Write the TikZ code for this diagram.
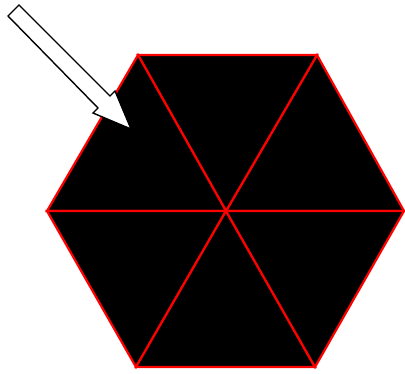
\documentclass[tikz,border=0pt]{standalone}
\begin{document}
\begin{tikzpicture}[x=1pt,y=-1pt,
  tri/.style={fill=black,draw=red,line width=2.2pt,line join=miter},
  blockarrow/.style={fill=white,draw=black,line width=1.4pt,line join=miter}]
\useasboundingbox (0,0) rectangle (405,373);
\coordinate (C) at (226,211);
\coordinate (V1) at (404,211);
\coordinate (V2) at (317,55);
\coordinate (V3) at (138,55);
\coordinate (V4) at (47,211);
\coordinate (V5) at (136,367);
\coordinate (V6) at (315,367);
\foreach \a/\b in {V1/V2,V2/V3,V3/V4,V4/V5,V5/V6,V6/V1}
  \draw[tri] (C) -- (\a) -- (\b) -- cycle;
% block arrow
\coordinate (A1) at (8,16);
\coordinate (A2) at (19,5);
\coordinate (A3) at (110,96);
\coordinate (A4) at (115,91);
\coordinate (T) at (131,129);
\coordinate (A5) at (93,113);
\coordinate (A6) at (98,108);
\draw[blockarrow] (A1) -- (A2) -- (A3) -- (A4) -- (T) -- (A5) -- (A6) -- cycle;
\end{tikzpicture}
\end{document}
